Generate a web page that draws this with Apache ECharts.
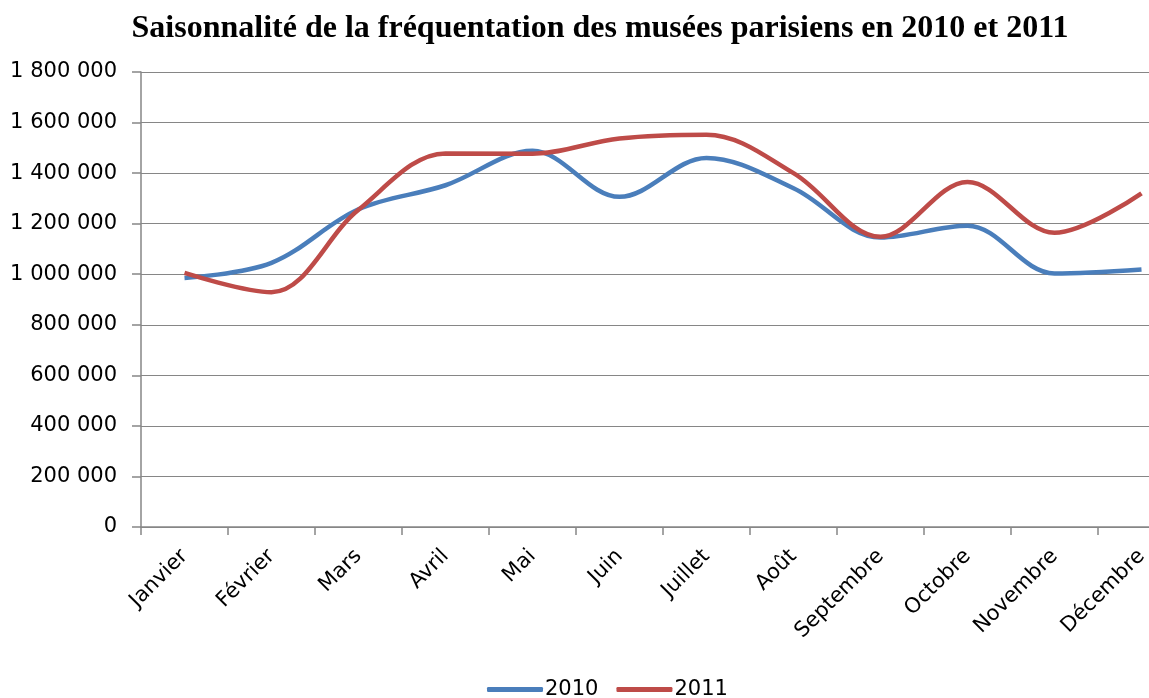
<!DOCTYPE html>
<html>
<head>
<meta charset="utf-8">
<script src="https://cdn.jsdelivr.net/npm/echarts@6/dist/echarts.min.js"></script>
<style>
html,body{margin:0;padding:0;background:#fff;overflow:hidden;}
#chart{width:1200px;height:698px;}
</style>
</head>
<body>
<div id="chart"></div>
<script>
const months = ['Janvier','Février','Mars','Avril','Mai','Juin','Juillet','Août','Septembre','Octobre','Novembre','Décembre'];
const values2010 = [985000, 1045000, 1257000, 1352000, 1488000, 1306000, 1460000, 1340000, 1145000, 1192000, 1003000, 1019000];
const values2011 = [1005000, 929000, 1255000, 1478000, 1477000, 1537000, 1552000, 1400000, 1148000, 1365000, 1164000, 1320000];
const yMin = 0, yMax = 1800000, yStep = 200000;
const titleText = 'Saisonnalité de la fréquentation des musées parisiens en 2010 et 2011';

function fmt(v){ return String(v).replace(/\B(?=(\d{3})+(?!\d))/g, ' '); }

const chart = echarts.init(document.getElementById('chart'));
const grey = '#868686';
chart.setOption({
  animation: false,
  backgroundColor: '#fff',
  title: {
    text: titleText,
    left: 595, top: 8, textAlign: 'center',
    textStyle: {fontFamily: 'Liberation Serif', fontWeight: 'bold', fontSize: 32, color: '#000'}
  },
  legend: {
    left: 482, top: 674,
    itemWidth: 56, itemHeight: 5, itemGap: 18,
    icon: 'roundRect',
    textStyle: {fontFamily: 'DejaVu Sans', fontSize: 21, color: '#000', padding: [0,0,0,-3]},
    data: ['2010','2011']
  },
  grid: {left: 141, top: 72, width: 1044, height: 455, containLabel: false},
  xAxis: {
    type: 'category', data: months, boundaryGap: true,
    axisLine: {lineStyle: {color: grey, width: 1.5}},
    axisTick: {show: true, length: 8, lineStyle: {color: grey, width: 1.5}},
    axisLabel: {rotate: 45, margin: 26, fontFamily: 'DejaVu Sans', fontSize: 21, color: '#000'}
  },
  yAxis: {
    type: 'value', min: yMin, max: yMax, interval: yStep,
    axisLine: {show: true, lineStyle: {color: grey, width: 1.5}},
    axisTick: {show: true, length: 9, lineStyle: {color: grey, width: 1.5}},
    splitLine: {show: true, lineStyle: {color: grey, width: 1}},
    axisLabel: {margin: 24, formatter: fmt, fontFamily: 'DejaVu Sans', fontSize: 21, color: '#000'}
  },
  series: [
    {name: '2010', type: 'line', data: values2010, smooth: 0.35, showSymbol: false,
     lineStyle: {color: '#4A7EBB', width: 4.5}, itemStyle: {color: '#4A7EBB'}},
    {name: '2011', type: 'line', data: values2011, smooth: 0.35, showSymbol: false,
     lineStyle: {color: '#BE4B48', width: 4.5}, itemStyle: {color: '#BE4B48'}}
  ]
});
</script>
</body>
</html>
